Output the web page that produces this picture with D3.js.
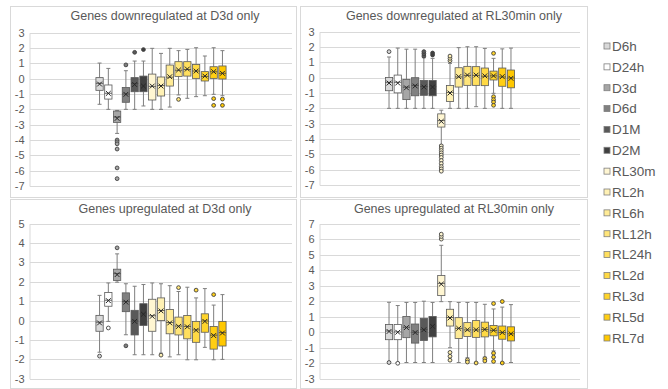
<!DOCTYPE html>
<html>
<head>
<meta charset="utf-8">
<script src="https://cdn.jsdelivr.net/npm/d3@7"></script>
<style>
  html, body { margin: 0; padding: 0; background: #ffffff; }
  svg { display: block; font-family: "Liberation Sans", Arial, sans-serif; }
</style>
</head>
<body>
<svg id="chart" width="668" height="389"></svg>
<script>
// Sampling time points (drought D*, re-watering RL*)
const categories = ["D6h", "D24h", "D3d", "D6d", "D1M", "D2M", "RL30m", "RL2h", "RL6h", "RL12h", "RL24h", "RL2d", "RL3d", "RL5d", "RL7d"];
const colors = ["#d9d9d9", "#ffffff", "#a6a6a6", "#808080", "#595959", "#404040", "#fff6d2", "#fff1b4", "#ffeb96", "#ffe57a", "#ffdf5e", "#ffd944", "#ffd42a", "#ffce14", "#ffc800"];

const titles = ["Genes downregulated at D3d only", "Genes downregulated at RL30min only", "Genes upregulated at D3d only", "Genes upregulated at RL30min only"];
const ticks1 = [-7, -6, -5, -4, -3, -2, -1, 0, 1, 2, 3];
const ticks2 = [-7, -6, -5, -4, -3, -2, -1, 0, 1, 2, 3];
const ticks3 = [-3, -2, -1, 0, 1, 2, 3, 4, 5];
const ticks4 = [-3, -2, -1, 0, 1, 2, 3, 4, 5, 6, 7];

// Genes downregulated at D3d only
const p1Hi   = [1.02, 0.67, -2.07, 0.52, 1.15, 1.15, 1.98, 1.65, 1.98, 1.83, 1.91, 2.02, 1.48, 2.02, 1.83];
const p1Q3   = [0.07, -0.41, -2.11, -0.57, 0.07, 0.17, 0.30, 0.11, 0.89, 1.11, 1.11, 0.93, 0.46, 0.78, 0.83];
const p1Med  = [-0.30, -0.95, -2.50, -1.00, -0.32, -0.45, -0.50, -0.45, 0.10, 0.55, 0.60, 0.50, 0.15, 0.45, 0.35];
const p1Mean = [-0.35, -0.96, -2.59, -1.02, -0.38, -0.48, -0.48, -0.48, 0.13, 0.57, 0.63, 0.50, 0.17, 0.46, 0.35];
const p1Q1   = [-0.76, -1.33, -2.85, -1.54, -0.85, -0.85, -1.39, -1.13, -0.48, 0.15, 0.17, 0.02, -0.15, 0.02, -0.02];
const p1Lo   = [-1.67, -2.00, -3.57, -2.00, -2.00, -1.78, -2.00, -2.00, -1.85, -1.06, -1.28, -1.17, -1.11, -1.02, -1.11];
const p1Out  = [[], [], [-4.0, -4.12, -4.25, -4.59, -5.82, -6.52], [0.9], [1.72], [1.9], [], [], [], [-1.35], [], [], [], [-1.3, -1.74], [-1.33, -1.74]];

// Genes downregulated at RL30min only
const p2Hi   = [1.35, 1.93, 1.86, 1.86, 1.30, 1.26, -2.12, 0.93, 1.96, 2.02, 2.02, 1.91, 1.26, 1.88, 1.93];
const p2Q3   = [0.01, 0.17, -0.11, 0.0, -0.18, -0.18, -2.36, -0.51, 0.65, 0.74, 0.72, 0.63, 0.43, 0.63, 0.50];
const p2Med  = [-0.30, -0.30, -0.62, -0.50, -0.58, -0.58, -2.80, -0.96, 0.05, 0.15, 0.15, 0.10, 0.12, 0.05, -0.02];
const p2Mean = [-0.35, -0.35, -0.66, -0.54, -0.61, -0.61, -2.85, -1.00, 0.07, 0.17, 0.17, 0.12, 0.12, 0.07, -0.04];
const p2Q1   = [-0.85, -0.99, -1.43, -1.18, -1.15, -1.18, -3.22, -1.55, -0.61, -0.50, -0.50, -0.52, -0.15, -0.56, -0.66];
const p2Lo   = [-2.0, -2.0, -2.0, -2.0, -2.0, -2.0, -4.39, -2.0, -2.0, -2.0, -1.89, -2.0, -1.02, -2.0, -2.0];
const p2Out  = [[1.7], [], [], [], [1.41, 1.56, 1.70], [1.48, 1.61], [-4.45, -4.6, -4.75, -4.9, -5.05, -5.2, -5.4, -5.6, -5.8, -5.95, -6.1], [1.11, 1.26, 1.41], [], [], [], [], [1.59, -1.24, -1.43, -1.59, -1.8], [], []];

// Genes upregulated at D3d only
const p3Hi   = [1.30, 1.94, 3.44, 1.90, 1.77, 1.86, 1.94, 1.90, 1.80, 1.50, 1.72, 1.17, 1.65, 0.80, 1.34];
const p3Q3   = [0.27, 1.45, 2.65, 1.43, 0.53, 0.87, 1.10, 1.17, 0.57, 0.18, 0.26, -0.04, 0.35, -0.30, -0.04];
const p3Med  = [-0.08, 1.05, 2.42, 0.98, -0.02, 0.35, 0.25, 0.52, -0.10, -0.28, -0.30, -0.48, -0.02, -0.75, -0.62];
const p3Mean = [-0.12, 1.03, 2.37, 0.95, -0.04, 0.33, 0.22, 0.50, -0.12, -0.30, -0.32, -0.50, -0.04, -0.77, -0.64];
const p3Q1   = [-0.55, 0.74, 2.07, 0.46, -0.74, -0.25, -0.55, 0.0, -0.68, -0.74, -0.94, -1.12, -0.60, -1.47, -1.31];
const p3Lo   = [-1.63, -0.04, 1.98, -0.73, -1.76, -1.76, -1.76, -1.68, -1.87, -1.76, -2.02, -2.02, -1.38, -2.02, -2.0];
const p3Out  = [[-1.83], [-0.38], [3.75], [-1.3], [], [], [], [-1.78], [], [1.7], [], [1.57], [], [1.34], []];

// Genes upregulated at RL30min only
const p4Hi   = [1.93, 1.72, 1.92, 1.92, 2.0, 1.92, 5.6, 1.97, 1.92, 1.92, 1.92, 1.8, 1.5, 1.62, 1.78];
const p4Q3   = [0.5, 0.5, 1.02, 0.53, 0.9, 1.02, 3.65, 1.48, 0.94, 0.62, 0.75, 0.65, 0.44, 0.4, 0.35];
const p4Med  = [0.08, 0.02, 0.32, 0.0, 0.18, 0.4, 3.15, 0.95, 0.25, 0.15, 0.15, 0.18, 0.12, -0.02, -0.1];
const p4Mean = [0.05, 0.0, 0.3, -0.02, 0.16, 0.38, 3.1, 0.92, 0.25, 0.16, 0.16, 0.18, 0.13, -0.02, -0.1];
const p4Q1   = [-0.48, -0.48, -0.35, -0.7, -0.53, -0.3, 2.36, 0.4, -0.4, -0.27, -0.33, -0.3, -0.23, -0.45, -0.56];
const p4Lo   = [-1.9, -1.95, -1.95, -1.95, -1.95, -1.95, 1.97, -1.0, -1.95, -1.65, -1.95, -1.6, -1.2, -1.95, -1.95];
const p4Out  = [[-1.95], [-2.0], [], [], [], [], [6.0, 6.17, 6.32], [-1.3, -1.55, -1.8], [], [-1.78, -1.92], [-1.98], [-1.7, -1.85], [1.85, -1.35, -1.6, -1.88], [1.98, -1.98], []];

// Panel frames and plot areas
const panels = [
  { title: titles[0], ticks: ticks1, frame: [10, 6, 286, 191],   plot: [30, 292, 186, 32.7],    stats: [p1Lo, p1Q1, p1Med, p1Mean, p1Q3, p1Hi, p1Out] },
  { title: titles[1], ticks: ticks2, frame: [300, 6, 287, 191],  plot: [320, 580, 185, 31.7],   stats: [p2Lo, p2Q1, p2Med, p2Mean, p2Q3, p2Hi, p2Out] },
  { title: titles[2], ticks: ticks3, frame: [10, 199, 286, 189], plot: [30, 292, 378.8, 223.6], stats: [p3Lo, p3Q1, p3Med, p3Mean, p3Q3, p3Hi, p3Out] },
  { title: titles[3], ticks: ticks4, frame: [300, 199, 287, 189], plot: [320, 580, 378.8, 223.6], stats: [p4Lo, p4Q1, p4Med, p4Mean, p4Q3, p4Hi, p4Out] }
];

const svg = d3.select("#chart");
const textColor = "#595959";

panels.forEach(p => {
  const [fx, fy, fw, fh] = p.frame;
  const [x0, x1, yb, yt] = p.plot;
  const g = svg.append("g");

  g.append("rect")
    .attr("x", fx + 0.5).attr("y", fy + 0.5)
    .attr("width", fw).attr("height", fh)
    .attr("fill", "#ffffff").attr("stroke", "#d9d9d9").attr("stroke-width", 1);

  g.append("text")
    .attr("x", (x0 + x1) / 2 + 4).attr("y", fy + 14)
    .attr("text-anchor", "middle")
    .attr("font-size", 12.5).attr("fill", textColor)
    .text(p.title);

  const y = d3.scaleLinear().domain(d3.extent(p.ticks)).range([yb, yt]);

  // group band holding all series, then one band per time point
  const group = d3.scaleBand().domain(["all"]).range([x0, x1]).paddingOuter(0.495).paddingInner(0);
  const x = d3.scaleBand().domain(categories)
    .range([group("all"), group("all") + group.bandwidth()])
    .paddingInner(0.17).paddingOuter(0.085);

  // gridlines
  g.append("g").selectAll("line").data(p.ticks).join("line")
    .attr("x1", x0).attr("x2", x1)
    .attr("y1", d => Math.round(y(d)) + 0.5).attr("y2", d => Math.round(y(d)) + 0.5)
    .attr("stroke", "#d9d9d9").attr("stroke-width", 1);

  // left axis with labels
  const axis = d3.axisLeft(y).tickValues(p.ticks).tickSize(0).tickPadding(5).tickFormat(d3.format("d"));
  const ag = g.append("g").attr("transform", `translate(${x0 - 0.5},0)`).call(axis);
  ag.select(".domain").attr("stroke", "#d9d9d9");
  ag.selectAll("text").attr("font-size", 11).attr("fill", textColor)
    .attr("font-family", "'Liberation Sans', Arial, sans-serif")
    .text(d => d < 0 ? "-" + Math.abs(d) : d);

  const [lo, q1, med, mean, q3, hi, out] = p.stats;
  const bw = x.bandwidth();
  const cap = 2;

  categories.forEach((c, i) => {
    const cx = x(c) + bw / 2;
    const bg = g.append("g");
    // whiskers
    bg.append("line").attr("x1", cx).attr("x2", cx).attr("y1", y(hi[i])).attr("y2", y(q3[i]))
      .attr("stroke", "#7f7f7f").attr("stroke-width", 1);
    bg.append("line").attr("x1", cx).attr("x2", cx).attr("y1", y(q1[i])).attr("y2", y(lo[i]))
      .attr("stroke", "#7f7f7f").attr("stroke-width", 1);
    [hi[i], lo[i]].forEach(v => {
      bg.append("line").attr("x1", cx - cap).attr("x2", cx + cap).attr("y1", y(v)).attr("y2", y(v))
        .attr("stroke", "#7f7f7f").attr("stroke-width", 1);
    });
    // box
    bg.append("rect")
      .attr("x", x(c)).attr("y", y(q3[i]))
      .attr("width", bw).attr("height", Math.max(1, y(q1[i]) - y(q3[i])))
      .attr("fill", colors[i]).attr("stroke", "#595959").attr("stroke-width", 0.8);
    // median
    bg.append("line").attr("x1", x(c)).attr("x2", x(c) + bw).attr("y1", y(med[i])).attr("y2", y(med[i]))
      .attr("stroke", "#404040").attr("stroke-width", 0.8);
    // mean marker
    const my = y(mean[i]), s = 2.4;
    bg.append("path")
      .attr("d", `M${cx - s},${my - s}L${cx + s},${my + s}M${cx - s},${my + s}L${cx + s},${my - s}`)
      .attr("stroke", "#262626").attr("stroke-width", 1).attr("fill", "none");
    // outliers
    bg.selectAll("circle").data(out[i]).join("circle")
      .attr("cx", cx).attr("cy", d => y(d)).attr("r", 1.9)
      .attr("fill", colors[i]).attr("stroke", "#404040").attr("stroke-width", 0.9);
  });
});

// legend
const legend = svg.append("g");
const ly = d3.scalePoint().domain(categories).range([46, 338]);
categories.forEach((c, i) => {
  legend.append("rect")
    .attr("x", 604).attr("y", ly(c) - 3).attr("width", 6).attr("height", 6)
    .attr("fill", colors[i]).attr("stroke", "#7f7f7f").attr("stroke-width", 0.8);
  legend.append("text")
    .attr("x", 612).attr("y", ly(c)).attr("dy", "0.36em")
    .attr("font-size", 13.5).attr("fill", textColor)
    .text(c);
});
</script>
</body>
</html>
